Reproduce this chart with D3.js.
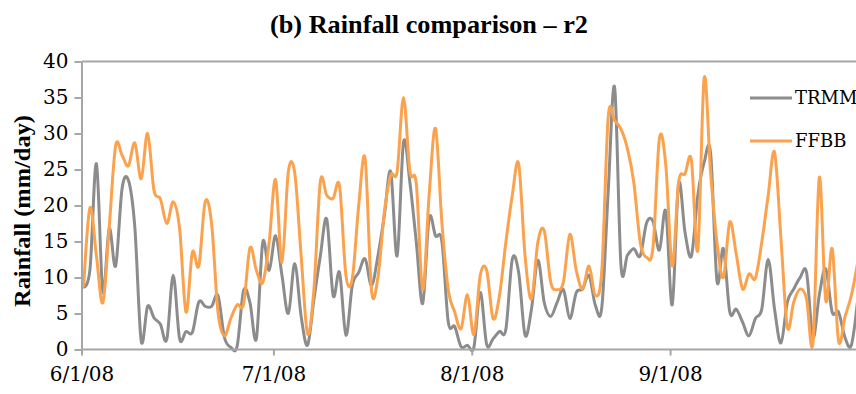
<!DOCTYPE html>
<html lang="en">
<head>
    <meta charset="UTF-8">
    <title>Rainfall comparison - r2</title>
    <style>
        body { margin: 0; background: #fff; }
        .line { fill: none; stroke-width: 3; stroke-linejoin: round; }
        .tick-label { font-family: "DejaVu Serif", serif; font-size: 20px; fill: #000; }
        .legend-label { font-family: "DejaVu Serif", serif; font-size: 18px; fill: #000; }
        .title { font-family: "Liberation Serif", serif; font-size: 26px; font-weight: bold; }
        .axis-label { font-family: "Liberation Serif", serif; font-size: 24px; font-weight: bold; }
    </style>
</head>
<body>
    <svg width="856" height="394"></svg>
    <script src="https://d3js.org/d3.v7.min.js"></script>
    <script>
        // daily values from 6/1/08 to 9/30/08
        const startDate = "2008-06-01";
        const seriesNames = ["TRMM", "FFBB"];
        const xTickLabels = ["6/1/08", "7/1/08", "8/1/08", "9/1/08"];
        const yTicks = [0, 5, 10, 15, 20, 25, 30, 35, 40];

        const trmm = [
            8.7, 11.2, 25.8, 8.0, 16.8, 11.6, 22.3, 23.5, 17.0, 1.2,
            6.0, 4.4, 3.5, 1.4, 10.3, 1.5, 2.5, 2.4, 6.6, 6.0,
            6.0, 7.5, 1.7, 0.3, 0.5, 8.2, 6.5, 1.5, 14.9, 11.0,
            15.8, 10.3, 5.0, 11.9, 4.6, 0.6, 7.0, 13.0, 18.1, 7.5,
            10.7, 2.0, 8.9, 10.7, 12.6, 8.9, 13.0, 18.6, 24.7, 13.0,
            28.8, 23.2, 14.9, 6.4, 18.2, 15.8, 15.0, 3.8, 3.2, 0.4,
            0.6, 0.3, 7.9, 0.7, 1.5, 2.5, 2.8, 12.5, 10.7, 2.0,
            5.6, 12.4, 6.5, 4.6, 6.5, 8.3, 4.3, 7.9, 8.4, 10.3,
            6.1, 5.9, 22.0, 36.4, 11.6, 13.1, 14.0, 13.0, 17.6, 17.8,
            13.8, 19.2, 6.2, 23.0, 16.3, 13.0, 21.4, 26.0, 27.3, 9.5,
            14.0, 5.2, 5.6, 3.8, 1.9, 4.3, 5.6, 12.5, 5.6, 0.9,
            6.6, 8.4, 10.0, 10.7, 1.7, 7.6, 11.2, 5.2, 5.2, 1.7,
            0.6, 7.0
        ];

        const ffbb = [
            8.7, 19.7, 13.0, 6.5, 17.0, 28.3, 27.0, 25.5, 28.7, 23.7,
            30.0, 22.1, 20.9, 17.5, 20.5, 16.8, 5.2, 13.5, 11.6, 20.5,
            17.5, 5.2, 1.9, 4.3, 6.2, 6.3, 14.1, 11.0, 9.3, 14.9,
            23.6, 12.1, 24.7, 24.5, 13.0, 2.2, 8.4, 23.3, 21.4, 21.0,
            22.7, 10.3, 9.9, 20.0, 26.5, 8.2, 10.0, 19.0, 24.2, 24.7,
            35.0, 24.7, 23.0, 8.3, 21.4, 30.7, 17.6, 8.3, 5.2, 2.9,
            7.6, 2.1, 10.3, 11.0, 4.3, 7.5, 14.9, 21.4, 25.8, 13.0,
            7.0, 14.9, 16.5, 9.4, 8.3, 9.4, 16.0, 11.0, 8.4, 11.6,
            7.5, 11.0, 32.3, 31.8, 30.6, 27.9, 23.2, 14.9, 12.8, 14.2,
            29.3, 25.6, 11.6, 23.2, 24.4, 26.3, 13.8, 37.7, 24.6, 14.9,
            10.0, 17.7, 13.3, 8.4, 10.5, 9.9, 14.9, 21.4, 27.4, 15.4,
            3.1, 6.6, 8.4, 7.0, 0.9, 23.9, 6.8, 14.0, 1.2, 4.5,
            7.5, 12.1
        ];

        const colors = {TRMM: "#8c8c8c", FFBB: "#fba24e"};
        const axisColor = "#a6a6a6";

        const svg = d3.select("svg");
        const parseDate = d3.timeParse("%Y-%m-%d");
        const day0 = parseDate(startDate);

        const x = d3.scaleTime()
            .domain([day0, d3.timeMonth.offset(day0, 4)])
            .range([81.5, 862]);
        const y = d3.scaleLinear().domain([0, 40]).range([349.5, 61.5]);

        // Excel places points a little past the day tick
        const pointDate = i => d3.timeHour.offset(d3.timeDay.offset(day0, i), 8);

        const seriesData = {
            TRMM: trmm.map((v, i) => ({date: pointDate(i), value: v})),
            FFBB: ffbb.map((v, i) => ({date: pointDate(i), value: v}))
        };

        svg.append("defs").append("clipPath").attr("id", "plot")
            .append("rect").attr("x", 81).attr("y", 40).attr("width", 775).attr("height", 330);

        // top border of plot area
        svg.append("line")
            .attr("x1", x.range()[0]).attr("x2", 856)
            .attr("y1", y(40)).attr("y2", y(40))
            .attr("stroke", axisColor).attr("stroke-width", 2);

        const line = d3.line()
            .x(d => x(d.date))
            .y(d => y(d.value))
            .curve(d3.curveCardinal.tension(0));

        const plot = svg.append("g").attr("clip-path", "url(#plot)");
        seriesNames.forEach(name => {
            plot.append("path")
                .datum(seriesData[name])
                .attr("class", "line")
                .attr("stroke", colors[name])
                .attr("d", line);
        });

        // x axis
        const xAxis = svg.append("g")
            .attr("transform", `translate(0,${y(0)})`)
            .call(d3.axisBottom(x)
                .tickValues(xTickLabels.map((_, i) => d3.timeMonth.offset(day0, i)))
                .tickSize(6)
                .tickFormat((d, i) => xTickLabels[i]));
        xAxis.select(".domain").attr("d", `M${x.range()[0]},0H856`);

        // y axis
        const yAxis = svg.append("g")
            .attr("transform", `translate(${x.range()[0]},0)`)
            .call(d3.axisLeft(y).tickValues(yTicks).tickSize(7).tickSizeOuter(0));

        [xAxis, yAxis].forEach(a => {
            a.select(".domain").attr("stroke", axisColor).attr("stroke-width", 2);
            a.selectAll(".tick line").attr("stroke", axisColor).attr("stroke-width", 2);
            a.selectAll(".tick text").attr("class", "tick-label").attr("fill", "#000");
        });
        xAxis.selectAll(".tick text").attr("y", 17);
        yAxis.selectAll(".tick text").attr("x", -13);

        // title
        svg.append("text")
            .attr("class", "title")
            .attr("x", 270).attr("y", 33)
            .attr("textLength", 318)
            .attr("lengthAdjust", "spacingAndGlyphs")
            .text("(b) Rainfall comparison \u2013 r2");

        // y label
        svg.append("text")
            .attr("class", "axis-label")
            .attr("transform", "translate(30,211) rotate(-90)")
            .attr("text-anchor", "middle")
            .attr("textLength", 192)
            .attr("lengthAdjust", "spacingAndGlyphs")
            .text("Rainfall (mm/day)");

        // legend
        const legend = svg.selectAll(".legend")
            .data(seriesNames)
            .enter().append("g")
            .attr("class", "legend")
            .attr("transform", (d, i) => `translate(750,${98 + i * 43})`);

        legend.append("line")
            .attr("x1", 0).attr("x2", 42)
            .attr("stroke", d => colors[d])
            .attr("stroke-width", 3);

        legend.append("text")
            .attr("class", "legend-label")
            .attr("x", 45)
            .attr("dy", "0.35em")
            .text(d => d);
    </script>
</body>
</html>
